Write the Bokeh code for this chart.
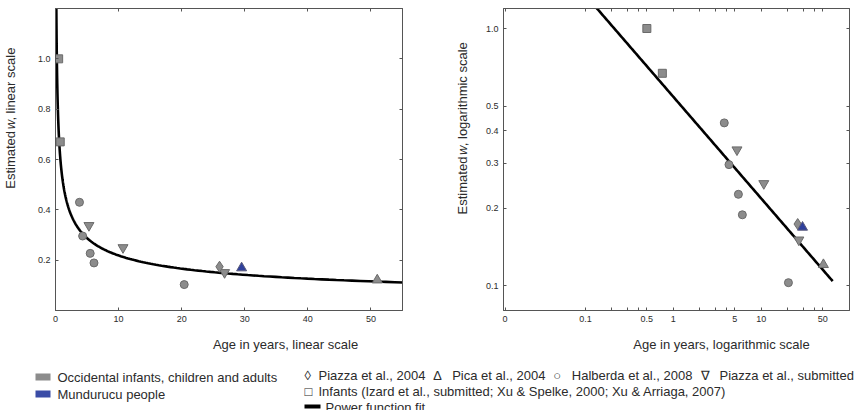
import numpy as np
from bokeh.plotting import figure
from bokeh.models import Range1d, FixedTicker, LinearAxis, LogAxis
from bokeh.layouts import row, column
from bokeh.embed import file_html
from bokeh.resources import INLINE
from bokeh.core.properties import value

# Estimated Weber fraction w by age (years), grouped by study
infant_age = [0.5, 0.75]
infant_w = [1.0, 0.67]
halberda_age = [3.8, 4.3, 5.5, 6.1, 20.4]
halberda_w = [0.43, 0.296, 0.227, 0.189, 0.103]
piazza_sub_age = [5.3, 10.7, 26.8]
piazza_sub_w = [0.338, 0.25, 0.151]
piazza04_age = [26.0]
piazza04_w = [0.174]
pica_age = [51.0]
pica_w = [0.121]
mundurucu_age = [29.5]
mundurucu_w = [0.169]

# Power function fit: w = fit_a * age ** fit_b
fit_a = 0.543
fit_b = -0.395
fit_age_from, fit_age_to = 0.02, 65.0

# Tick positions and labels
lin_x_ticks = [0, 10, 20, 30, 40, 50]
lin_x_labels = ["0", "10", "20", "30", "40", "50"]
lin_y_ticks = [0.2, 0.4, 0.6, 0.8, 1.0]
lin_y_labels = ["0.2", "0.4", "0.6", "0.8", "1.0"]
log_x_ticks = [0.0122, 0.1, 0.5, 1, 5, 10, 50]
log_x_labels = ["0", "0.1", "0.5", "1", "5", "10", "50"]
log_x_minor = [0.2, 0.3, 0.4, 2, 3, 4, 20, 30, 40]
log_y_ticks = [0.1, 0.2, 0.3, 0.4, 0.5, 1.0]
log_y_labels = ["0.1", "0.2", "0.3", "0.4", "0.5", "1.0"]

# Legend entries: marker symbol and study label
study_symbols = ["\u25ca", "\u2206", "\u25cb", "\u2207"]
study_labels = ["Piazza et al., 2004", "Pica et al., 2004",
                "Halberda et al., 2008", "Piazza et al., submitted"]
infant_label = "Infants (Izard et al., submitted; Xu & Spelke, 2000; Xu & Arriaga, 2007)"

GRAY = "#8c8c8c"
EDGE = "#6a6a6a"
BLUE = "#2f409c"
AX = "#555555"
TXT = "#2b2b2b"
FONT = "Liberation Sans"

fit_age = np.geomspace(fit_age_from, fit_age_to, 300)
fit_w = fit_a * fit_age ** fit_b


def style_axis(ax, ticks, labels=None, minor=None):
    ax.ticker = FixedTicker(ticks=ticks, minor_ticks=minor or [])
    ax.major_tick_in = 3
    ax.major_tick_out = 0
    ax.minor_tick_in = 3
    ax.minor_tick_out = 0
    ax.axis_line_color = AX
    ax.major_tick_line_color = AX
    ax.minor_tick_line_color = AX
    if labels is not None:
        ax.major_label_overrides = dict(zip(ticks, labels))
        ax.major_label_text_font = FONT
        ax.major_label_text_font_size = "9px"
        ax.major_label_text_color = TXT
        ax.major_label_standoff = 5
    else:
        # mirrored tick marks only, no labels
        ax.major_label_text_color = None
        ax.major_label_text_font_size = "0px"
        ax.major_label_standoff = 0


def draw_points(p):
    p.line(fit_age, fit_w, line_color="black", line_width=2.6)
    kw = dict(fill_color=GRAY, line_color=EDGE, line_width=1)
    p.scatter(infant_age, infant_w, marker="square", size=8, **kw)
    p.scatter(halberda_age, halberda_w, marker="circle", size=8, **kw)
    p.scatter(piazza_sub_age, piazza_sub_w, marker="inverted_triangle", size=10, **kw)
    p.scatter(piazza04_age, piazza04_w, marker="diamond", size=11, **kw)
    p.scatter(pica_age, pica_w, marker="triangle", size=10, **kw)
    p.scatter(mundurucu_age, mundurucu_w, marker="triangle", size=10,
              fill_color=BLUE, line_color="#5a5a7a", line_width=1)


def base_plot(width, left, right, x_range, y_range, **extra):
    p = figure(width=width, height=330, x_range=x_range, y_range=y_range,
               output_backend="svg", toolbar_location=None,
               min_border_left=left, min_border_right=right,
               min_border_top=8, min_border_bottom=20, **extra)
    p.grid.visible = False
    p.outline_line_color = AX
    p.background_fill_color = "white"
    p.border_fill_color = "white"
    return p


# Linear-scale panel
p1 = base_plot(410, 35, 28, Range1d(0, 55), Range1d(0.0, 1.2))
draw_points(p1)
style_axis(p1.xaxis[0], lin_x_ticks, lin_x_labels)
style_axis(p1.yaxis[0], lin_y_ticks, lin_y_labels)
top1 = LinearAxis()
right1 = LinearAxis()
p1.add_layout(top1, "above")
p1.add_layout(right1, "right")
style_axis(top1, lin_x_ticks)
style_axis(right1, lin_y_ticks)

# Logarithmic panel
p2 = base_plot(386, 31, 9, Range1d(0.0117, 101.0), Range1d(0.0803, 1.196),
               x_axis_type="log", y_axis_type="log")
draw_points(p2)
style_axis(p2.xaxis[0], log_x_ticks, log_x_labels, log_x_minor)
style_axis(p2.yaxis[0], log_y_ticks, log_y_labels)
top2 = LogAxis()
right2 = LogAxis()
p2.add_layout(top2, "above")
p2.add_layout(right2, "right")
style_axis(top2, log_x_ticks, None, log_x_minor)
style_axis(right2, log_y_ticks)


def text_panel(width, height):
    t = figure(width=width, height=height, x_range=Range1d(0, width),
               y_range=Range1d(0, height), output_backend="svg",
               toolbar_location=None, min_border=0,
               x_axis_location=None, y_axis_location=None)
    t.grid.visible = False
    t.outline_line_color = None
    return t


def put(t, x, y, s, align="left", angle=0.0, style="normal", size="13px"):
    t.text(x=[x], y=[y], text=[s], text_align=align, text_baseline="middle",
           angle=angle, text_font=value(FONT), text_font_size=size,
           text_font_style=style, text_color=TXT)


# Rotated y-axis titles (with italic w)
def y_title(t, x, y0, tail):
    put(t, x, y0, "Estimated", angle=np.pi / 2)
    put(t, x, y0 + 65.0, "w", angle=np.pi / 2, style="italic")
    put(t, x, y0 + 74.5, tail, angle=np.pi / 2)


yl1 = text_panel(20, 330)
y_title(yl1, 9.5, 133, ", linear scale")
yl2 = text_panel(42, 330)
y_title(yl2, 32, 105, ", logarithmic scale")

# Bottom strip: x-axis titles and legend (y measured from the strip's bottom)
H = 80
bot = text_panel(858, H)
put(bot, 285, H - 14, "Age in years, linear scale", align="center")
put(bot, 721, H - 14, "Age in years, logarithmic scale", align="center")

bot.quad(left=[35], right=[50], top=[H - 43], bottom=[H - 50], fill_color=GRAY, line_color=None)
put(bot, 57, H - 46.5, "Occidental infants, children and adults")
bot.quad(left=[35], right=[50], top=[H - 60], bottom=[H - 67], fill_color="#3a4ca6", line_color=None)
put(bot, 57, H - 63.5, "Mundurucu people")

# study symbols row: symbol then label, laid out left to right
sym_x = [304, 433, 552.7, 700.3]
lab_x = [318, 451.7, 571.3, 719]
for sx, lx, sym, lab in zip(sym_x, lab_x, study_symbols, study_labels):
    put(bot, sx, H - 45, sym)
    put(bot, lx, H - 45, lab)

put(bot, 304, H - 61, "\u25a1")
put(bot, 318, H - 61, infant_label)
bot.quad(left=[304], right=[320], top=[H - 74], bottom=[H - 78], fill_color="black", line_color=None)
put(bot, 325, H - 77, "Power function fit")

layout = column(row(yl1, p1, yl2, p2), bot)
open("out.html", "w").write(file_html(layout, INLINE))
